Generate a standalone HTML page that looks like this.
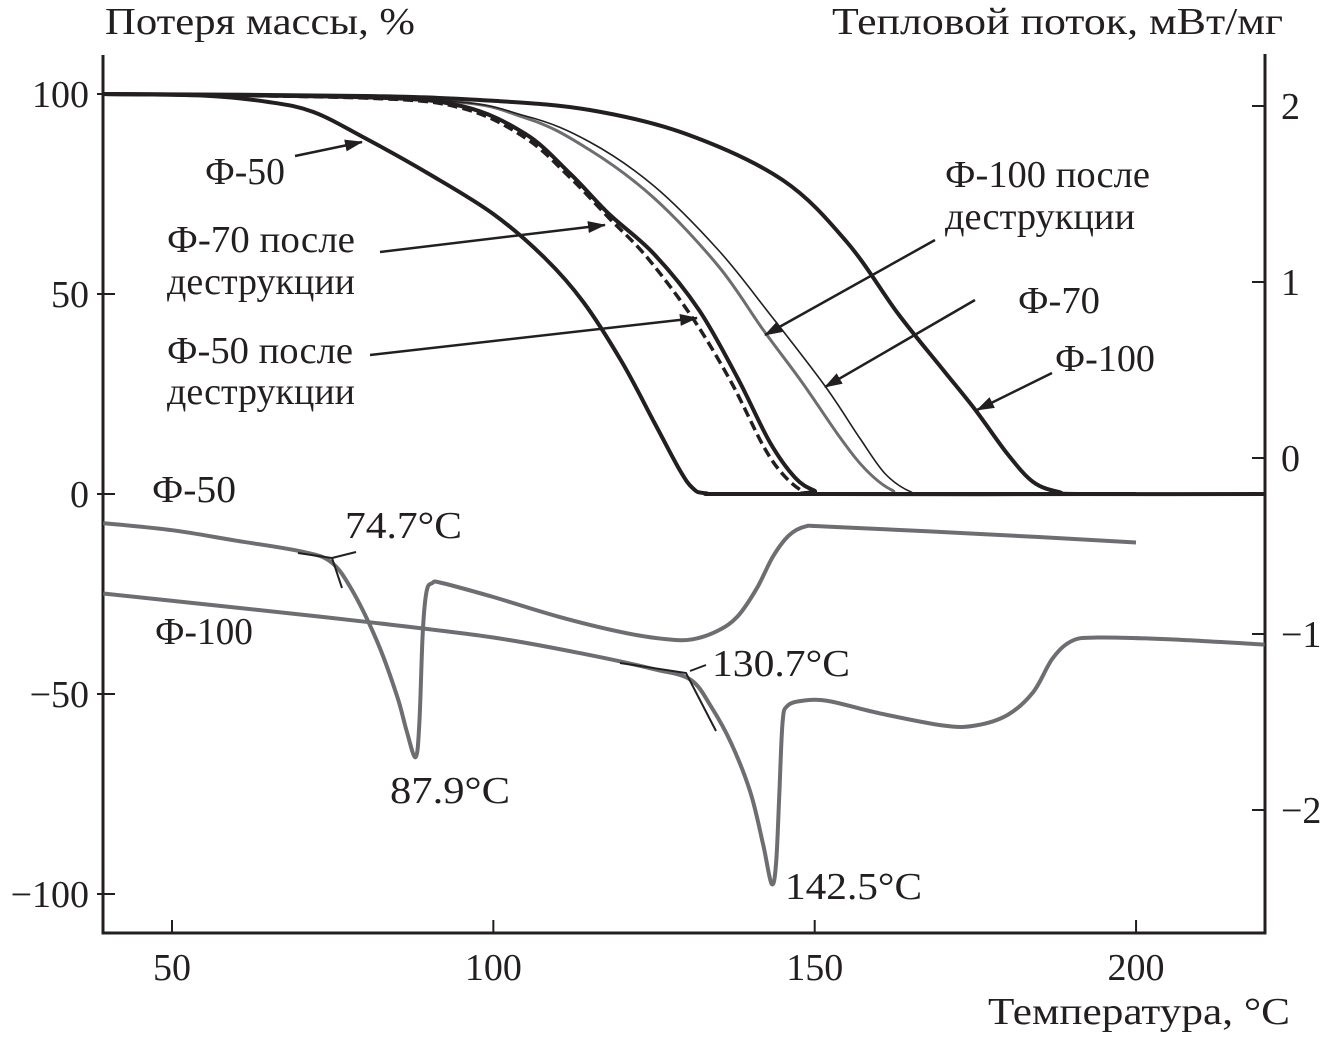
<!DOCTYPE html>
<html><head><meta charset="utf-8"><style>
html,body{margin:0;padding:0;background:#fff}
svg{display:block}
text{font-family:"Liberation Serif",serif;fill:#231f20}
</style></head><body>
<svg id="chart" width="1332" height="1043" viewBox="0 0 1332 1043">
<defs><marker id="ah2" markerWidth="18" markerHeight="12" refX="17" refY="6" orient="auto" markerUnits="userSpaceOnUse" viewBox="0 0 18 12"><path d="M0,0 L18,6 L0,12 Z" fill="#231f20"/></marker></defs>
<g id="axes"></g><g id="series"></g><g id="labels"></g>
</svg>
<script>
const xTicks=[50,100,150,200];
const yLeftTicks=[100,50,0,-50,-100];
const yLeftTickLabels=["100","50","0","\u221250","\u2212100"];
const yRightTicks=[2,1,0,-1,-2];
const yRightTickLabels=["2","1","0","\u22121","\u22122"];
const tgaF50T=[39.3,55,65,72,80,90,100,108,114,120,125,129,131,133,140,199];
const tgaF50M=[100,99.6,98,95.5,89,80,70,59,48,33,18,6,1.5,0.2,0,0];
const tgaF50dT=[39.3,80,95,105,112,118,124,131,137,142,145,148,150,160];
const tgaF50dM=[100,99,96.5,89,79,69,59,44,28,12,5,0.8,0,0];
const tgaF70dT=[39.3,80,95,105,112,118,125,132,138,143,147,150,152,200];
const tgaF70dM=[100,99.2,97,90,80,70,60,46,29,13,4,0.8,0,0];
const tgaF100dT=[39.3,90,105,115,125,135,142,148,154,158,162,166,200];
const tgaF100dM=[100,98.5,94,86,74,57,41,28,14,6,1,0,0];
const tgaF70T=[39.3,90,105,115,125,135,143,151.6,157,161,165,168,200];
const tgaF70M=[100,98.5,94.5,88,77,61,45,27,14,5,0.5,0,0];
const tgaF100T=[39.3,80,100,115,130,145,155,163,170,175,180,184,188,192,220];
const tgaF100M=[100,99.5,98.3,96,90,78.5,63,45,31,21,10,3,0.5,0,0];
const dscF50T=[39.3,50,60,70,74.7,78,82,85,86.5,87.9,88.5,89,89.6,90.5,92,100,110,120,127,131,135,138,141,143.5,146,148.5,152,175,200];
const dscF50V=[-0.37,-0.41,-0.47,-0.53,-0.59,-0.75,-1.05,-1.35,-1.55,-1.7,-1.5,-1.0,-0.76,-0.71,-0.71,-0.79,-0.9,-0.99,-1.03,-1.03,-0.98,-0.9,-0.74,-0.56,-0.44,-0.39,-0.39,-0.43,-0.48];
const dscF100T=[39.3,60,80,100,115,125,130.7,134,137,140,142,143.3,144,144.5,145,145.7,148,152,160,170,175,180,184,187,190,194,205,220];
const dscF100V=[-0.77,-0.85,-0.93,-1.02,-1.12,-1.2,-1.26,-1.42,-1.62,-1.9,-2.2,-2.42,-2.3,-1.9,-1.5,-1.41,-1.38,-1.38,-1.45,-1.52,-1.52,-1.46,-1.33,-1.14,-1.04,-1.02,-1.03,-1.06];

const NS="http://www.w3.org/2000/svg";
const X=t=>172+(t-50)*6.427;
const YL=m=>494-m*4;
const YR=v=>458-v*176;
function mk(tag,attrs,parent,text){const e=document.createElementNS(NS,tag);for(const k in attrs)e.setAttribute(k,attrs[k]);if(text!==undefined)e.textContent=text;document.getElementById(parent).appendChild(e);return e;}
function smooth(pts){let d="M"+pts[0][0]+","+pts[0][1];for(let i=0;i<pts.length-1;i++){const p0=pts[Math.max(0,i-1)],p1=pts[i],p2=pts[i+1],p3=pts[Math.min(pts.length-1,i+2)];const c1=[p1[0]+(p2[0]-p0[0])/6,p1[1]+(p2[1]-p0[1])/6],c2=[p2[0]-(p3[0]-p1[0])/6,p2[1]-(p3[1]-p1[1])/6];d+=" C"+c1[0].toFixed(1)+","+c1[1].toFixed(1)+" "+c2[0].toFixed(1)+","+c2[1].toFixed(1)+" "+p2[0].toFixed(1)+","+p2[1].toFixed(1);}return d;}
function series(ts,vs,yf,style,name){const pts=ts.map((t,i)=>[X(t),yf(vs[i])]);const p=mk("path",Object.assign({d:smooth(pts),fill:"none","stroke-linejoin":"round"},style),"series");

}

let a=mk("path",{d:"M103,55 V933 H1265 V54",fill:"none",stroke:"#231f20","stroke-width":3},"axes");


xTicks.forEach(t=>{let l=mk("line",{x1:X(t),x2:X(t),y1:933,y2:920,stroke:"#231f20","stroke-width":2},"axes");


let tx=mk("text",{x:X(t),y:980,"text-anchor":"middle","font-size":38},"labels",String(t));

});
yLeftTicks.forEach((m,i)=>{let l=mk("line",{x1:97,x2:115,y1:YL(m),y2:YL(m),stroke:"#231f20","stroke-width":2},"axes");


let tx=mk("text",{x:89,y:YL(m)+13,"text-anchor":"end","font-size":38},"labels",yLeftTickLabels[i]);

});
yRightTicks.forEach((v,i)=>{let l=mk("line",{x1:1252,x2:1265,y1:YR(v),y2:YR(v),stroke:"#231f20","stroke-width":2},"axes");


let tx=mk("text",{x:1281,y:YR(v)+13,"text-anchor":"start","font-size":38},"labels",yRightTickLabels[i]);

});

series(tgaF100dT,tgaF100dM,YL,{stroke:"#6d6e71","stroke-width":3},"tga-f100-after");
series(tgaF70T,tgaF70M,YL,{stroke:"#231f20","stroke-width":1.6},"tga-f70");
series(tgaF50dT,tgaF50dM,YL,{stroke:"#231f20","stroke-width":3.5,"stroke-dasharray":"10,5"},"tga-f50-after");
series(tgaF70dT,tgaF70dM,YL,{stroke:"#231f20","stroke-width":4},"tga-f70-after");
series(tgaF100T,tgaF100M,YL,{stroke:"#231f20","stroke-width":4},"tga-f100");
series(tgaF50T,tgaF50M,YL,{stroke:"#231f20","stroke-width":4},"tga-f50");
series(dscF50T,dscF50V,YR,{stroke:"#6d6e71","stroke-width":4},"dsc-f50");
series(dscF100T,dscF100V,YR,{stroke:"#6d6e71","stroke-width":4},"dsc-f100");

[["M298,553 L332,558 L342,588 M332,558 L356,552","onset-tangent-74"],["M620,663 L686,673 L716,731 M690,671 L706,665","onset-tangent-130"]].forEach(([d,n])=>{let p=mk("path",{d:d,fill:"none",stroke:"#231f20","stroke-width":2},"series");

});

[[295,156,362,142,"arrow-f50"],[380,252,605,225,"arrow-f70-after"],[370,355,697,318,"arrow-f50-after"],[935,240,765,335,"arrow-f100-after"],[975,300,825,387,"arrow-f70"],[1052,373,977,410,"arrow-f100"]].forEach(r=>{let l=mk("line",{x1:r[0],y1:r[1],x2:r[2],y2:r[3],stroke:"#231f20","stroke-width":2.5,"marker-end":"url(#ah2)"},"series");

});

[[105,34,"Потеря массы, %",310,"y-left-title"],[832,34,"Тепловой поток, мВт/мг",451,"y-right-title"],[988,1024,"Температура, °С",302,"x-axis-title"],
[205,184,"Ф-50",80,"label-f50"],[167,252,"Ф-70 после",188,"label-f70-after-1"],[167,294,"деструкции",188,"label-f70-after-2"],
[167,363,"Ф-50 после",186,"label-f50-after-1"],[167,404,"деструкции",188,"label-f50-after-2"],
[945,187,"Ф-100 после",205,"label-f100-after-1"],[945,229,"деструкции",190,"label-f100-after-2"],
[1018,313,"Ф-70",82,"label-f70"],[1055,371,"Ф-100",100,"label-f100"],
[152,502,"Ф-50",84,"label-dsc-f50"],[155,644,"Ф-100",98,"label-dsc-f100"],
[345,538,"74.7°C",117,"label-onset-74"],[390,803,"87.9°C",120,"label-peak-88"],[712,676,"130.7°C",138,"label-onset-130"],[785,899,"142.5°C",137,"label-peak-142"]].forEach(r=>{let t=mk("text",{x:r[0],y:r[1],"font-size":38,textLength:r[3],lengthAdjust:"spacingAndGlyphs"},"labels",r[2]);

});
</script>
</body></html>
